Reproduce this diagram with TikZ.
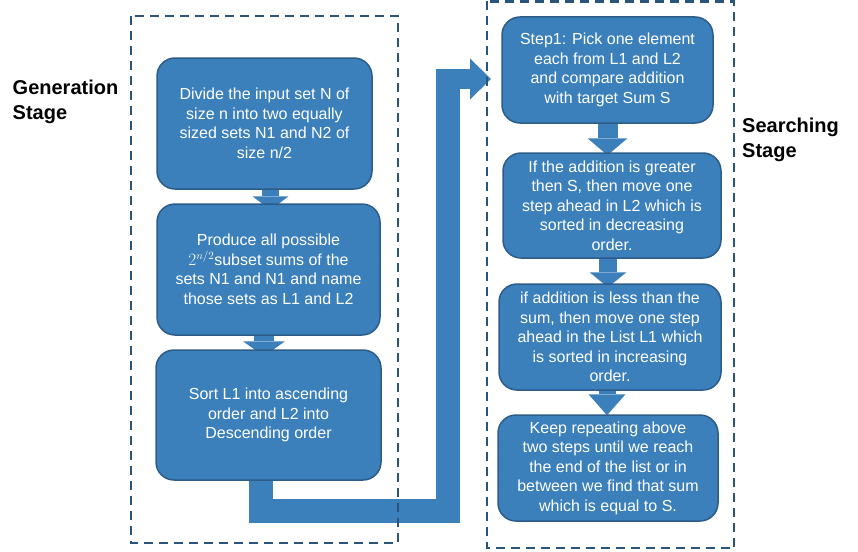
\documentclass[tikz,border=0pt]{standalone}
\usepackage{fontspec}
\setmainfont{Liberation Sans}
\usetikzlibrary{arrows.meta,calc,backgrounds}
\definecolor{boxfill}{RGB}{59,128,187}
\definecolor{boxline}{RGB}{44,92,135}
\definecolor{dashcol}{RGB}{42,84,122}
\begin{document}
\begin{tikzpicture}[x=1pt,y=-1pt,
  flowbox/.style={draw=boxline, line width=1.5pt, fill=boxfill, rounded corners=18pt,
    text=white, align=center, inner sep=0pt, font=\fontsize{16}{19.5}\selectfont},
  stagelabel/.style={anchor=west, align=left, inner sep=0pt, font=\bfseries\fontsize{20}{24.5}\selectfont},
  frame/.style={draw=dashcol, line width=2.3pt, dash pattern=on 9pt off 6pt},
  bigshaft/.style={draw=boxfill, line width=24pt, line join=miter},
  bigtop/.style={draw=boxfill, line width=20pt, -{Triangle[length=21pt,width=41pt,line width=0pt]}}
]
\useasboundingbox (0,0) rectangle (858,551);

% left column
\node[flowbox, minimum width=215pt, minimum height=131pt] (b1) at (264.5,123.5)
  {Divide the input set N of\\size n into two equally\\sized sets N1 and N2 of\\size n/2};
\node[flowbox, minimum width=223pt, minimum height=131pt] (b2) at (268.5,269.5)
  {Produce all possible\\$2^{n/2}$subset sums of the\\sets N1 and N1 and name\\those sets as L1 and L2};
\node[flowbox, minimum width=225pt, minimum height=130pt] (b3) at (268.5,415)
  {Sort L1 into ascending\\order and L2 into\\Descending order};

% right column
\node[flowbox, minimum width=211pt, minimum height=106pt] (r1) at (607.5,70)
  {Step1: Pick one element\\each from L1 and L2\\and compare addition\\with target Sum S};
\node[flowbox, minimum width=218pt, minimum height=105pt] (r2) at (612,205.5)
  {If the addition is greater\\then S, then move one\\step ahead in L2 which is\\sorted in decreasing\\order.};
\node[flowbox, minimum width=222pt, minimum height=106pt] (r3) at (610,337)
  {if addition is less than the\\sum, then move one step\\ahead in the List L1 which\\is sorted in increasing\\order.};
\node[flowbox, minimum width=220pt, minimum height=106pt] (r4) at (608,468)
  {Keep repeating above\\two steps until we reach\\the end of the list or in\\between we find that sum\\which is equal to S.};

% stage labels
\node[stagelabel] (gen) at (12.5,102) {Generation\\Stage};
\node[stagelabel] (sea) at (742,140) {Searching\\Stage};

\coordinate (turn) at (448,511);
\coordinate (bend) at (448,79);
\coordinate (tip) at (491,79);

\begin{pgfonlayer}{background}
  \draw[draw=boxfill, line width=17pt, -{Triangle[length=14pt,width=36pt,line width=0pt]}]
    ($(b1.south)+(6,0)$) -- ($(b1.south |- b2.north)+(6,7)$);
  \draw[draw=boxfill, line width=20pt, -{Triangle[length=15pt,width=42pt,line width=0pt]}]
    ($(b2.south)+(-4.5,0)$) -- ($(b2.south |- b3.north)+(-4.5,7)$);
  \draw[draw=boxfill, line width=20pt, -{Triangle[length=17pt,width=40pt,line width=0pt]}]
    ($(r1.south)+(0,0)$) -- ($(r1.south |- r2.north)+(0,3)$);
  \draw[draw=boxfill, line width=18pt, -{Triangle[length=15pt,width=37pt,line width=0pt]}]
    ($(r2.south)+(-4,0)$) -- ($(r2.south |- r3.north)+(-4,4)$);
  \draw[draw=boxfill, line width=17pt, -{Triangle[length=21pt,width=37pt,line width=0pt]}]
    ($(r3.south)+(-3,0)$) -- ($(r3.south |- r4.north)+(-3,1)$);
  % big bent arrow from the generation stage to the searching stage
  \draw[bigshaft] ($(b3.south)+(-7.5,-5)$) |- (turn) -- ($(bend)+(0,-10)$);
  \draw[bigtop] ($(bend)+(-12,0)$) -- (tip);
\end{pgfonlayer}

% dashed stage frames
\draw[frame] (131,16) rectangle (398,543);
\draw[frame] (487,1.5) rectangle (734,548);
\end{tikzpicture}
\end{document}
